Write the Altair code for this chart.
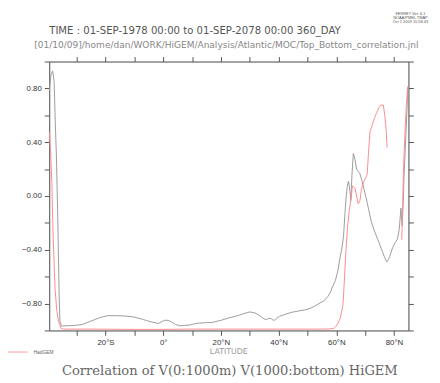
import altair as alt
import pandas as pd

# ---- data ----
higem_lat = [-39.45, -38.9, -38.3, -37.8, -37.4, -37.0, -36.5, -36.1, -35.8, -35.3, -33.0, -30.7, -28.0,
             -25.0, -22.0, -19.3, -15.9, -13.0, -10.2, -7.5, -5.7, -3.5, -1.7, -0.5, 0.55, 1.8, 2.8, 4.2,
             5.7, 7.5, 9.1, 11.0, 12.5, 15.0, 17.0, 20.0, 22.7, 25.0, 27.3, 29.0, 30.1, 31.8, 33.5, 35.0,
             35.8, 36.6, 37.5, 38.0, 38.6, 39.3, 40.3, 42.3, 44.3, 47.0, 49.4, 51.0, 52.3, 54.0, 55.7,
             57.0, 58.0, 58.8, 59.7, 60.5, 61.4, 62.0, 62.5, 63.0, 63.4, 63.8, 64.2, 64.6, 65.05, 65.4,
             65.9, 66.5, 67.0, 67.5, 68.1, 68.8, 69.6, 70.4, 71.2, 72.1, 73.2, 74.4, 75.2, 76.1, 76.8,
             77.5, 78.0, 78.5, 79.5, 80.3, 81.2, 81.8, 82.4, 82.8, 83.2, 83.5, 84.1, 84.8]
higem_corr = [0.78, 0.90, 0.93, 0.85, 0.55, 0.29, -0.20, -0.70, -0.93, -0.967, -0.965, -0.963, -0.955,
              -0.93, -0.905, -0.89, -0.89, -0.893, -0.90, -0.915, -0.927, -0.94, -0.948, -0.935, -0.924,
              -0.925, -0.935, -0.955, -0.965, -0.963, -0.96, -0.95, -0.945, -0.942, -0.94, -0.925, -0.907,
              -0.895, -0.88, -0.868, -0.862, -0.87, -0.89, -0.915, -0.919, -0.91, -0.913, -0.922, -0.924,
              -0.91, -0.895, -0.88, -0.866, -0.855, -0.846, -0.835, -0.822, -0.80, -0.78, -0.75, -0.713,
              -0.67, -0.628, -0.56, -0.446, -0.38, -0.30, -0.13, -0.01, 0.07, 0.11, 0.06, -0.034, 0.15,
              0.317, 0.27, 0.20, 0.185, 0.17, 0.12, 0.05, -0.02, -0.10, -0.19, -0.26, -0.325, -0.37,
              -0.42, -0.46, -0.49, -0.475, -0.45, -0.385, -0.35, -0.32, -0.25, -0.09, -0.22, -0.05,
              0.16, 0.45, 0.80]

hadgem_lat_a = [-39.45, -39.0, -38.6, -38.1, -37.5, -36.9, -36.3, -35.8, -35.4, -34.5, -25.0, -10.0, 0.0,
                10.0, 20.0, 30.0, 40.0, 50.0, 57.0, 59.1, 59.7, 60.5, 61.4, 62.3, 62.7, 63.3, 63.9, 64.5,
                65.0, 65.6, 66.0, 66.5, 67.0, 67.6, 68.2, 68.7, 69.6, 70.7, 71.1, 71.4, 71.7, 72.5, 73.3,
                74.0, 74.8, 75.4, 76.3, 76.8, 77.3, 77.6]
hadgem_corr_a = [0.475, 0.32, 0.10, -0.325, -0.68, -0.85, -0.93, -0.96, -0.985, -0.99, -0.99, -0.992,
                 -0.992, -0.99, -0.99, -0.99, -0.99, -0.99, -0.99, -0.985, -0.975, -0.95, -0.907, -0.81,
                 -0.665, -0.42, -0.23, -0.107, -0.034, 0.075, 0.07, 0.058, 0.002, -0.058, -0.034, 0.05,
                 0.11, 0.16, 0.30, 0.40, 0.48, 0.53, 0.584, 0.62, 0.66, 0.676, 0.676, 0.60, 0.487, 0.36]
hadgem_lat_b = [82.7, 83.3, 83.5, 84.1, 84.7]
hadgem_corr_b = [-0.325, 0.20, 0.317, 0.61, 0.815]

x_ticks = [-30, -20, -10, 0, 10, 20, 30, 40, 50, 60, 70, 80]
y_ticks = [-1.0, -0.8, -0.6, -0.4, -0.2, 0.0, 0.2, 0.4, 0.6, 0.8, 1.0]

title_text = "Correlation of V(0:1000m) V(1000:bottom) HiGEM"
time_text = "TIME : 01-SEP-1978 00:00 to 01-SEP-2078 00:00 360_DAY"
path_text = "[01/10/09]/home/dan/WORK/HiGEM/Analysis/Atlantic/MOC/Top_Bottom_correlation.jnl"
ferret_lines = ["FERRET Ver. 6.1", "NOAA/PMEL TMAP", "Oct  1 2009 15:58:43"]
legend_label = "HadGEM"
x_title = "LATITUDE"

# ---- build tables ----
higem = pd.DataFrame({"lat": higem_lat, "corr": higem_corr})
hadgem = pd.concat([
    pd.DataFrame({"lat": hadgem_lat_a, "corr": hadgem_corr_a, "seg": "a"}),
    pd.DataFrame({"lat": hadgem_lat_b, "corr": hadgem_corr_b, "seg": "b"}),
])

W, H = 366, 274
xs = alt.Scale(domain=[-39.5, 85], nice=False, zero=False)
ys = alt.Scale(domain=[-1.0, 1.0], nice=False, zero=False)
AX = "#555555"
LBL = "#333333"
FONT = "Liberation Sans"

x_label_expr = ("datum.value % 20 != 0 ? '' : (datum.value < 0 ? abs(datum.value) + '°S' : "
                "(datum.value == 0 ? '0°' : datum.value + '°N'))")
y_label_expr = ("(abs(round(datum.value*10)) % 4 == 0 && abs(datum.value) < 0.95) ? "
                "format(datum.value, '.2f') : ''")

gray = alt.Chart(higem).mark_line(color="#9c9c9c", strokeWidth=1).encode(
    x=alt.X("lat:Q", scale=xs, axis=alt.Axis(
        orient="bottom", values=x_ticks, labelExpr=x_label_expr, title=None, grid=False,
        tickSize=5, domainColor=AX, tickColor=AX, labelColor=LBL, labelFont=FONT,
        labelFontSize=8, labelPadding=3, labelFlush=False)),
    y=alt.Y("corr:Q", scale=ys, axis=alt.Axis(
        orient="left", values=y_ticks, labelExpr=y_label_expr, title=None, grid=False,
        tickSize=5, domainColor=AX, tickColor=AX, labelColor=LBL, labelFont=FONT,
        labelFontSize=8, labelPadding=3, labelFlush=False)),
)

red = alt.Chart(hadgem).mark_line(color="#ff8c8c", strokeWidth=1).encode(
    x=alt.X("lat:Q", scale=xs, axis=alt.Axis(
        orient="top", values=x_ticks, labels=False, title=None, grid=False,
        tickSize=5, domainColor=AX, tickColor=AX)),
    y=alt.Y("corr:Q", scale=ys, axis=alt.Axis(
        orient="right", values=y_ticks, labels=False, title=None, grid=False,
        tickSize=5, domainColor=AX, tickColor=AX)),
    detail="seg:N",
)


def txt(text, x, y, size, color, font=FONT, align="left"):
    return alt.Chart(pd.DataFrame({"t": [text]})).mark_text(
        align=align, baseline="middle", fontSize=size, color=color, font=font).encode(
        x=alt.value(x), y=alt.value(y), text="t:N")


# offsets relative to plot origin at page (50, 59)
texts = [
    txt(time_text, 0, -31, 10.3, "#555555", font="DejaVu Sans"),
    txt(path_text, 180.5, -17, 9.2, "#888888", font="DejaVu Sans", align="center"),
    txt(ferret_lines[0], 368, -48, 4, "#555555", align="center"),
    txt(ferret_lines[1], 368, -44, 4, "#555555", align="center"),
    txt(ferret_lines[2], 368, -40, 4, "#555555", align="center"),
    txt(x_title, 183, 296, 8, "#999999", font="DejaVu Sans", align="center"),
    txt(title_text, 184, 315, 13.3, "#666666", font="DejaVu Serif", align="center"),
    txt(legend_label, -16, 296, 5, "#666666"),
]

legend_line = alt.Chart(pd.DataFrame({"a": [0]})).mark_rule(color="#ff9a9a", strokeWidth=1).encode(
    x=alt.value(-42), x2=alt.value(-22), y=alt.value(296))

chart = alt.layer(gray, red, legend_line, *texts).resolve_axis(
    x="independent", y="independent").properties(
    width=W, height=H,
    autosize=alt.AutoSizeParams(type="none"),
    padding={"left": 42, "top": 51, "right": 24, "bottom": 50},
).configure_view(stroke=None).configure(background="white")

chart.save("out.html", embed_options={"renderer": "svg", "actions": False})
